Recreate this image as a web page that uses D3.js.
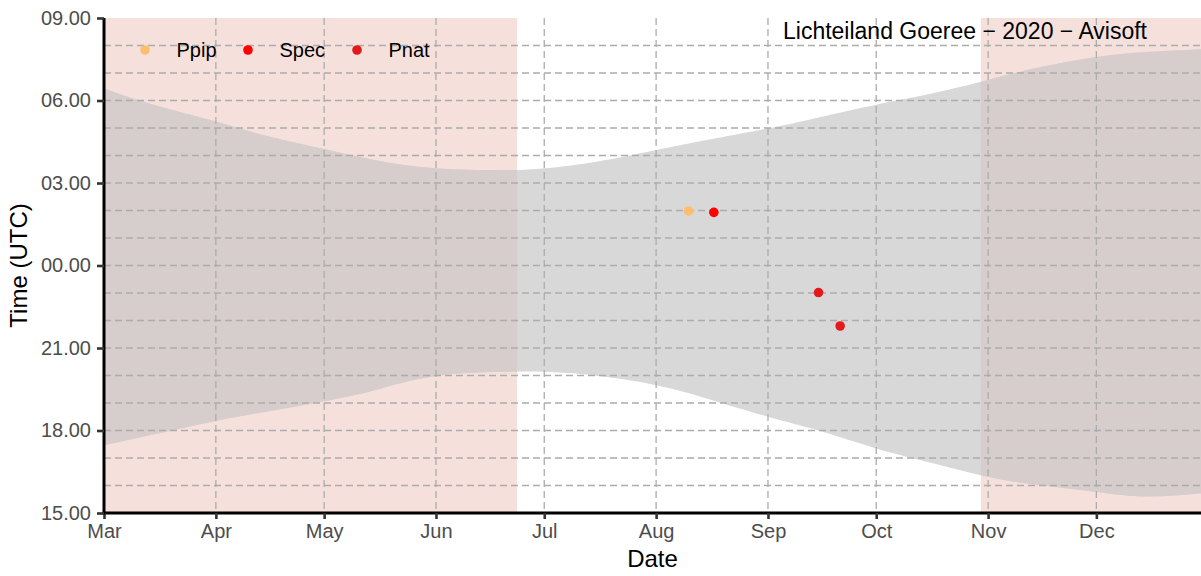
<!DOCTYPE html>
<html>
<head>
<meta charset="utf-8">
<script src="https://cdn.jsdelivr.net/npm/d3@7"></script>
<style>
  html, body { margin: 0; padding: 0; background: #ffffff; }
  svg { display: block; font-family: "Liberation Sans", Arial, sans-serif; }
</style>
</head>
<body>
<svg id="chart" width="1201" height="576"></svg>
<script>
// ---- data ----
const monthTicks = ["2020-03-01","2020-04-01","2020-05-01","2020-06-01","2020-07-01","2020-08-01","2020-09-01","2020-10-01","2020-11-01","2020-12-01"];
const monthLabels = ["Mar","Apr","May","Jun","Jul","Aug","Sep","Oct","Nov","Dec"];
const timeTicks = ["09:00","06:00","03:00","00:00","21:00","18:00","15:00"];
const timeTickLabels = ["09.00","06.00","03.00","00.00","21.00","18.00","15.00"];

const sunDates   = ["2020-03-01","2020-03-15","2020-04-01","2020-04-15","2020-05-01","2020-05-15","2020-06-01","2020-06-21","2020-07-01","2020-07-15","2020-08-01","2020-08-15","2020-09-01","2020-09-15","2020-10-01","2020-10-15","2020-11-01","2020-11-15","2020-12-01","2020-12-15","2020-12-30"];
const sunriseUTC = ["06:26","05:50","05:14","04:43","04:14","03:50","03:32","03:28","03:32","03:46","04:12","04:34","04:59","05:23","05:51","06:13","06:45","07:12","07:35","07:46","07:52"];
const sunsetUTC  = ["17:28","17:52","18:21","18:41","19:04","19:28","19:59","20:08","20:08","20:00","19:39","19:10","18:30","18:00","17:21","16:52","16:19","16:01","15:46","15:36","15:43"];

const shadeStart = ["2020-03-01","2020-10-30"];
const shadeEnd   = ["2020-06-23T12:00","2020-12-30"];

const obsSpecies = ["Ppip","Spec","Pnat","Pnat"];
const obsDates   = ["2020-08-10","2020-08-17","2020-09-15","2020-09-21"];
const obsTimes   = ["01:59","01:56","23:01","21:48"];

const legendSpecies = ["Ppip","Spec","Pnat"];
const speciesColors = ["#fdbf6f","#ff0000","#e31a1c"];

const titleText = "Lichteiland Goeree \u2212 2020 \u2212 Avisoft";
const xDomain = ["2020-03-01","2020-12-30"];

// ---- helpers ----
const parseDate = s => new Date(s.length > 10 ? s + "Z" : s + "T00:00Z");
// hours since 15:00 UTC (axis runs 15:00 -> 09:00 next day)
const toH = s => { const [hh, mm] = s.split(":").map(Number); return ((hh + mm / 60 - 15) + 24) % 24; };

const svg = d3.select("#chart");
const L = 104, R = 1201, T = 18, B = 513;

const x = d3.scaleUtc().domain(xDomain.map(parseDate)).range([L, R]);
const y = d3.scaleLinear().domain([0, 18]).range([B, T]);
const color = d3.scaleOrdinal().domain(legendSpecies).range(speciesColors);

const defs = svg.append("defs");
defs.append("clipPath").attr("id", "plotClip")
  .append("rect").attr("x", L).attr("y", T).attr("width", R - L).attr("height", B - T);
const pinkClip = defs.append("clipPath").attr("id", "pinkClip");
shadeStart.forEach((s, i) => {
  pinkClip.append("rect")
    .attr("x", x(parseDate(s))).attr("y", T)
    .attr("width", x(parseDate(shadeEnd[i])) - x(parseDate(s))).attr("height", B - T);
});

const plot = svg.append("g").attr("clip-path", "url(#plotClip)");

// pink shaded periods
plot.selectAll("rect.shade").data(shadeStart).join("rect")
  .attr("class", "shade")
  .attr("x", d => x(parseDate(d))).attr("y", T)
  .attr("width", (d, i) => x(parseDate(shadeEnd[i])) - x(parseDate(d)))
  .attr("height", B - T)
  .attr("fill", "#f6e0dc");

// night band
const band = sunDates.map((d, i) => ({ date: parseDate(d), rise: toH(sunriseUTC[i]), set: toH(sunsetUTC[i]) }));
const area = d3.area().curve(d3.curveNatural)
  .x(d => x(d.date)).y0(d => y(d.set)).y1(d => y(d.rise));
plot.append("path").datum(band).attr("d", area).attr("fill", "#d8d8d8");
plot.append("g").attr("clip-path", "url(#pinkClip)")
  .append("path").datum(band).attr("d", area).attr("fill", "#d7cdcc");

// grid (dashed)
const grid = plot.append("g").attr("stroke", "#acacac").attr("stroke-width", 1.3)
  .attr("stroke-dasharray", "7,4").attr("fill", "none");
grid.selectAll("line.h").data(d3.range(1, 18)).join("line")
  .attr("x1", L).attr("x2", R).attr("y1", d => y(d)).attr("y2", d => y(d));
grid.selectAll("line.v").data(monthTicks.slice(1)).join("line")
  .attr("y1", T).attr("y2", B).attr("x1", d => x(parseDate(d))).attr("x2", d => x(parseDate(d)));

// observations
plot.selectAll("circle.obs").data(obsSpecies.map((s, i) => ({ s, d: parseDate(obsDates[i]), h: toH(obsTimes[i]) })))
  .join("circle").attr("class", "obs")
  .attr("cx", d => x(d.d)).attr("cy", d => y(d.h)).attr("r", 4.8)
  .attr("fill", d => color(d.s));

// legend
const legX = [145, 248, 357];
const leg = svg.append("g");
legendSpecies.forEach((s, i) => {
  leg.append("circle").attr("cx", legX[i]).attr("cy", 50).attr("r", 4.8).attr("fill", color(s));
  leg.append("text").attr("x", legX[i] + 31.5).attr("y", 56.5).attr("font-size", 20).attr("fill", "#000").text(s);
});

// title annotation
svg.append("text").attr("x", 1147).attr("y", 39.3).attr("text-anchor", "end")
  .attr("font-size", 23).attr("fill", "#000").text(titleText);

// axes
const xAxis = d3.axisBottom(x)
  .tickValues(monthTicks.map(parseDate))
  .tickFormat((d, i) => monthLabels[i])
  .tickSizeInner(6).tickSizeOuter(0).tickPadding(5);
const gx = svg.append("g").attr("transform", `translate(0,${B})`).call(xAxis);
gx.select(".domain").attr("stroke", "#000").attr("stroke-width", 3).attr("d", `M${L - 1.5},0H${R}`);
gx.selectAll(".tick line").attr("stroke", "#333").attr("stroke-width", 2.6);
gx.selectAll(".tick text").attr("font-size", 20).attr("fill", "#4d4d4d").attr("font-family", "Liberation Sans, Arial, sans-serif");

const yAxis = d3.axisLeft(y)
  .tickValues(timeTicks.map(toH).map((h, i) => (i === 0 ? 18 : h)))
  .tickFormat((d, i) => timeTickLabels[i])
  .tickSizeInner(7).tickSizeOuter(0).tickPadding(6);
const gy = svg.append("g").attr("transform", `translate(${L},0)`).call(yAxis);
gy.select(".domain").attr("stroke", "#000").attr("stroke-width", 3).attr("d", `M0,${T}V${B + 1.5}`);
gy.selectAll(".tick line").attr("stroke", "#333").attr("stroke-width", 2.6);
gy.selectAll(".tick text").attr("font-size", 20).attr("fill", "#4d4d4d").attr("font-family", "Liberation Sans, Arial, sans-serif");

// axis titles
svg.append("text").attr("x", (L + R) / 2).attr("y", 566.5).attr("text-anchor", "middle")
  .attr("font-size", 24).attr("fill", "#000").text("Date");
svg.append("text").attr("transform", `translate(27,${(T + B) / 2}) rotate(-90)`).attr("text-anchor", "middle")
  .attr("font-size", 24).attr("fill", "#000").text("Time (UTC)");
</script>
</body>
</html>
